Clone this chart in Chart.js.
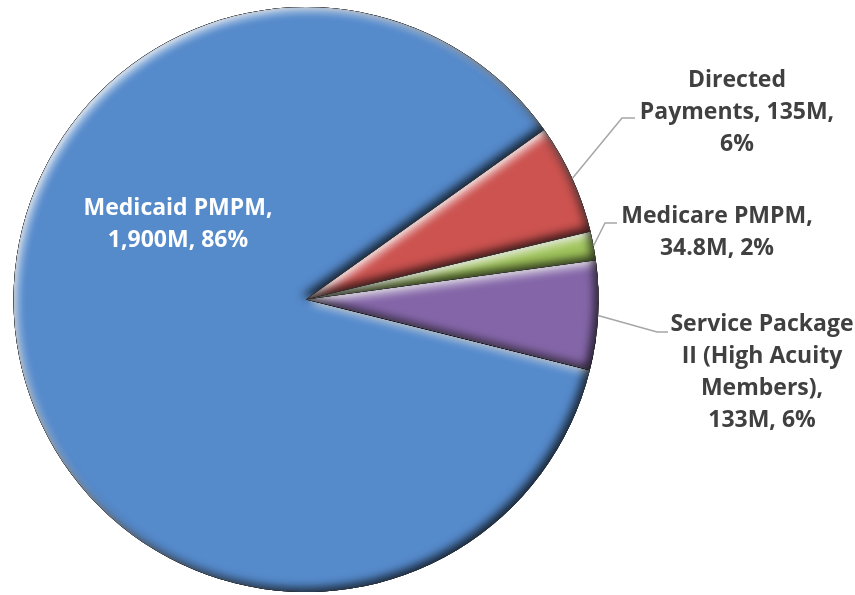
<!DOCTYPE html>
<html><head><meta charset="utf-8">
<script src="https://cdn.jsdelivr.net/npm/chart.js@4/dist/chart.umd.min.js"></script>
<style>html,body{margin:0;padding:0;background:#fff;overflow:hidden}#wrap{width:855px;height:595px;position:relative}</style>
</head><body><div id="wrap"><canvas id="c" width="855" height="595"></canvas></div>
<script>
// ---- data ----
const categories = ["Medicaid PMPM", "Directed Payments", "Medicare PMPM", "Service Package II (High Acuity Members)"];
const values = [1900, 135, 34.8, 133];          // $M
const valueUnit = "M";

// ---- styles / layout (not data) ----
const sliceColors = ["#558ACB", "#CC5350", "#A0C45C", "#8466A8"];
const labelFont = "bold 23px 'Open Sans', 'DejaVu Sans', sans-serif";
const lineHeight = 32;
const labelLayout = [
  { x: 178, y: 215, color: "#FFFFFF", maxWidth: 210, elbow: null },
  { x: 737, y: 87,  color: "#404040", maxWidth: 210, elbow: [622, 118], end: [635, 118] },
  { x: 717, y: 223, color: "#404040", maxWidth: 210, elbow: [605, 223], end: [617, 223] },
  { x: 762, y: 331, color: "#404040", maxWidth: 190, elbow: [657, 332], end: [668, 332] }
];

const total = values.reduce((a, b) => a + b, 0);
function fmtVal(v) { return v.toLocaleString("en-US") + valueUnit; }
function fmtPct(v) { return Math.round(v / total * 100) + "%"; }

function wrap(ctx, text, maxW) {
  const words = text.split(" ");
  const lines = [];
  let cur = "";
  for (const w of words) {
    const t = cur ? cur + " " + w : w;
    if (cur && ctx.measureText(t).width > maxW) { lines.push(cur); cur = w; }
    else cur = t;
  }
  if (cur) lines.push(cur);
  return lines;
}

function arcPath(ctx, el) {
  ctx.beginPath();
  ctx.moveTo(el.x, el.y);
  ctx.arc(el.x, el.y, el.outerRadius, el.startAngle, el.endAngle);
  ctx.closePath();
}

const bevelPlugin = {
  id: "bevel",
  afterDatasetsDraw(chart) {
    const ctx = chart.ctx;
    const meta = chart.getDatasetMeta(0);
    meta.data.forEach((el) => {
      const passes = [
        { color: "rgba(255,255,255,0.75)", ox: 4, oy: 4, blur: 9 },
        { color: "rgba(255,255,255,0.35)", ox: 2, oy: 2, blur: 3 },
        { color: "rgba(0,0,0,0.75)", ox: -4, oy: -4, blur: 10 }
      ];
      passes.forEach(p => {
        ctx.save();
        arcPath(ctx, el);
        ctx.clip();
        ctx.beginPath();
        ctx.rect(-1000, -1000, 3000, 3000);
        ctx.moveTo(el.x, el.y);
        ctx.arc(el.x, el.y, el.outerRadius, el.startAngle, el.endAngle);
        ctx.closePath();
        ctx.shadowColor = p.color;
        ctx.shadowBlur = p.blur;
        ctx.shadowOffsetX = p.ox;
        ctx.shadowOffsetY = p.oy;
        ctx.fillStyle = "#000";
        ctx.fill("evenodd");
        ctx.restore();
      });
    });
  }
};

const labelPlugin = {
  id: "labels",
  afterDraw(chart) {
    const ctx = chart.ctx;
    const meta = chart.getDatasetMeta(0);
    ctx.save();
    ctx.font = labelFont;
    meta.data.forEach((el, i) => {
      const L = labelLayout[i];
      if (L.elbow) {
        const mid = (el.startAngle + el.endAngle) / 2;
        const sx = el.x + Math.cos(mid) * el.outerRadius;
        const sy = el.y + Math.sin(mid) * el.outerRadius;
        ctx.beginPath();
        ctx.moveTo(sx, sy);
        ctx.lineTo(L.elbow[0], L.elbow[1]);
        ctx.lineTo(L.end[0], L.end[1]);
        ctx.strokeStyle = "#A6A6A6";
        ctx.lineWidth = 1.5;
        ctx.stroke();
      }
      const text = categories[i] + ", " + fmtVal(values[i]) + ", " + fmtPct(values[i]);
      const lines = wrap(ctx, text, L.maxWidth);
      ctx.fillStyle = L.color;
      ctx.textAlign = "center";
      ctx.textBaseline = "alphabetic";
      lines.forEach((ln, k) => ctx.fillText(ln, L.x, L.y + k * lineHeight));
    });
    ctx.restore();
  }
};

new Chart(document.getElementById("c"), {
  type: "pie",
  data: {
    labels: categories,
    datasets: [{
      data: values,
      backgroundColor: sliceColors,
      borderWidth: 0
    }]
  },
  options: {
    responsive: false,
    animation: false,
    rotation: 104,
    layout: { padding: { left: 13, right: 256, top: 7, bottom: 3 } },
    plugins: { legend: { display: false }, tooltip: { enabled: false } }
  },
  plugins: [bevelPlugin, labelPlugin]
});
</script>
</body></html>
